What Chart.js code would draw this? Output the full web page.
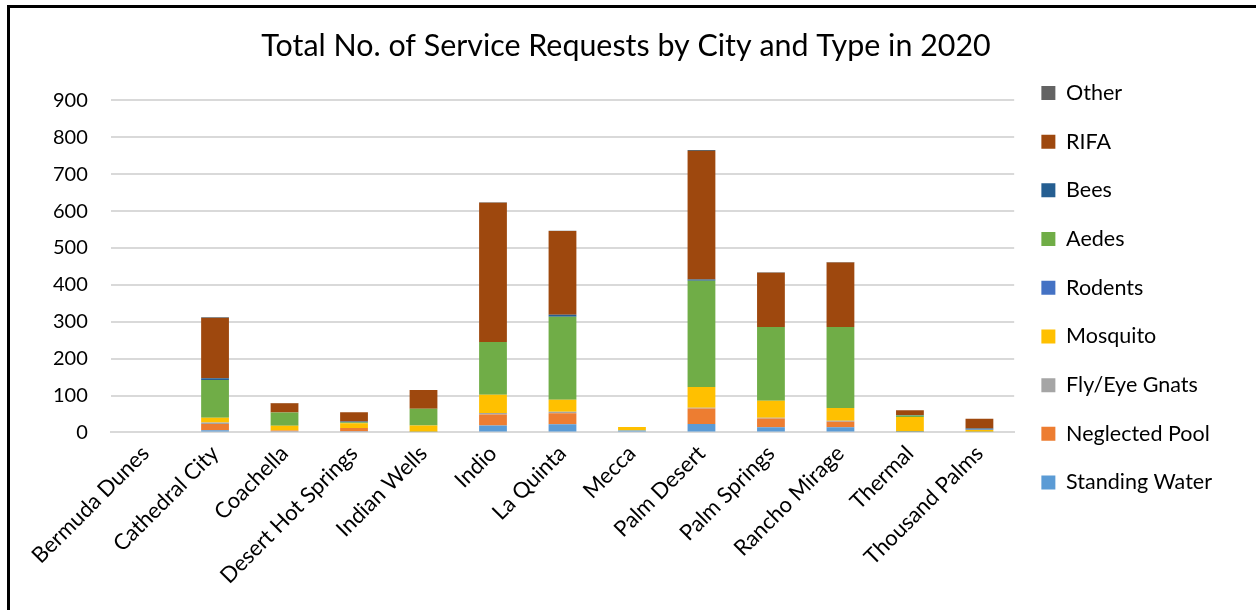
<!DOCTYPE html>
<html>
<head>
<meta charset="utf-8">
<script src="https://cdn.jsdelivr.net/npm/chart.js@4"></script>
<style>
  html, body { margin: 0; padding: 0; background: #fff; }
  #frame {
    position: absolute; left: 7px; top: 5px;
    width: 1249px; height: 605px;
    border-top: 3px solid #000; border-left: 3px solid #000;
  }
  canvas { display: block; }
</style>
</head>
<body>
<div id="frame"><canvas id="requestsChart" width="1249" height="602"></canvas></div>
<script>
// cidades e valores
const cities = ['Bermuda Dunes', 'Cathedral City', 'Coachella', 'Desert Hot Springs', 'Indian Wells', 'Indio',
    'La Quinta', 'Mecca', 'Palm Desert', 'Palm Springs', 'Rancho Mirage', 'Thermal', 'Thousand Palms'];

const standingWater = [0, 6, 3, 3, 2, 19, 22, 5, 23, 14, 14, 1, 2];
const neglectedPool = [0, 17, 2, 9, 0, 30, 30, 0, 42, 24, 15, 0, 0];
const flyEyeGnats  = [0, 4, 0, 0, 0, 4, 4, 0, 2, 2, 3, 1, 0];
const mosquito     = [0, 13, 13, 13, 17, 49, 33, 10, 56, 46, 34, 40, 5];
const rodents      = [0, 0, 0, 0, 0, 0, 0, 0, 0, 0, 0, 0, 1];
const aedes        = [0, 102, 36, 3, 45, 143, 225, 0, 288, 200, 220, 4, 1];
const bees         = [0, 5, 0, 2, 0, 0, 5, 0, 4, 0, 0, 1, 2];
const rifa         = [0, 163, 25, 25, 51, 378, 227, 0, 348, 147, 175, 13, 26];
const other        = [0, 2, 1, 0, 0, 1, 1, 0, 3, 1, 1, 0, 0];

const yTicks = [0, 100, 200, 300, 400, 500, 600, 700, 800, 900];

const series = [
    { label: 'Standing Water', data: standingWater, color: '#5B9BD5' },
    { label: 'Neglected Pool', data: neglectedPool, color: '#ED7D31' },
    { label: 'Fly/Eye Gnats', data: flyEyeGnats, color: '#A5A5A5' },
    { label: 'Mosquito', data: mosquito, color: '#FFC000' },
    { label: 'Rodents', data: rodents, color: '#4472C4' },
    { label: 'Aedes', data: aedes, color: '#70AD47' },
    { label: 'Bees', data: bees, color: '#255E91' },
    { label: 'RIFA', data: rifa, color: '#9E480E' },
    { label: 'Other', data: other, color: '#636363' }
];

const fontFamily = 'Lato, "Open Sans", sans-serif';

const ctx = document.getElementById('requestsChart').getContext('2d');

const requestsChart = new Chart(ctx, {
    type: 'bar',
    data: {
        labels: cities,
        datasets: series.map(s => ({
            label: s.label,
            data: s.data,
            backgroundColor: s.color,
            borderWidth: 0,
            categoryPercentage: 1,
            barPercentage: 0.4
        }))
    },
    options: {
        responsive: false,
        animation: false,
        layout: { padding: { left: 20, right: 37, top: 0, bottom: 13 } },
        plugins: {
            title: {
                display: true,
                text: 'Total No. of Service Requests by City and Type in 2020',
                color: '#000',
                font: { family: fontFamily, size: 30.4, weight: 400 },
                padding: { top: 20, bottom: 36 }
            },
            legend: {
                position: 'right',
                align: 'start',
                reverse: true,
                // titulo vazio so para empurrar os itens para baixo
                title: { display: true, text: ' ', font: { size: 10 }, padding: 17.5 },
                labels: {
                    color: '#000',
                    font: { family: fontFamily, size: 21.5 },
                    boxWidth: 14,
                    boxHeight: 14,
                    padding: 27.2
                }
            },
            tooltip: { enabled: false }
        },
        scales: {
            x: {
                stacked: true,
                grid: { display: false, drawTicks: false },
                border: { display: true, color: '#D9D9D9', width: 2 },
                ticks: {
                    color: '#000',
                    font: { family: fontFamily, size: 22 },
                    maxRotation: 45,
                    minRotation: 45,
                    autoSkip: false,
                    padding: 8
                }
            },
            y: {
                stacked: true,
                min: 0,
                max: 900,
                afterBuildTicks: axis => { axis.ticks = yTicks.map(v => ({ value: v })); },
                grid: { color: '#D9D9D9', lineWidth: 2, drawTicks: false },
                border: { display: false },
                ticks: {
                    color: '#000',
                    font: { family: fontFamily, size: 20 },
                    padding: 23
                }
            }
        }
    }
});
</script>
</body>
</html>
